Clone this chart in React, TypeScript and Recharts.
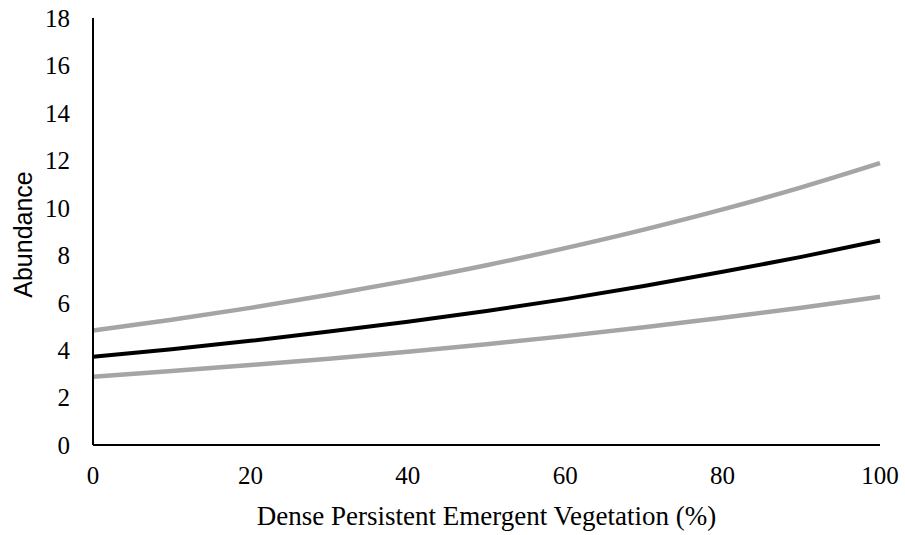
import React from 'react';
import { LineChart, Line, XAxis, YAxis, Label } from 'recharts';

const vegetation = [0, 10, 20, 30, 40, 50, 60, 70, 80, 90, 100];
const abundance = [3.72, 4.04, 4.39, 4.78, 5.2, 5.65, 6.15, 6.7, 7.3, 7.93, 8.62];
const upperCI = [4.83, 5.28, 5.78, 6.33, 6.93, 7.58, 8.3, 9.08, 9.93, 10.86, 11.88];
const lowerCI = [2.88, 3.12, 3.37, 3.64, 3.93, 4.25, 4.59, 4.96, 5.36, 5.79, 6.25];
const xTicks = [0, 20, 40, 60, 80, 100];
const yTicks = [0, 2, 4, 6, 8, 10, 12, 14, 16, 18];

const data = vegetation.map((v, i) => ({
  x: v,
  mean: abundance[i],
  upper: upperCI[i],
  lower: lowerCI[i],
}));

const serif = "'Liberation Serif', 'Times New Roman', serif";
const sans = "'Liberation Sans', Arial, sans-serif";

const XTick = (props: any) => {
  const { x, y, payload } = props;
  return (
    <text x={x} y={y} dy="0.71em" textAnchor="middle" fill="#000" style={{ fontFamily: serif, fontSize: 25 }}>
      {payload.value}
    </text>
  );
};

const YTick = (props: any) => {
  const { x, y, payload } = props;
  return (
    <text x={x} y={y} dy="0.355em" textAnchor="end" fill="#000" style={{ fontFamily: serif, fontSize: 25 }}>
      {payload.value}
    </text>
  );
};

const XTitle = (props: any) => {
  const vb = props.viewBox || { x: 0, y: 0, width: 0, height: 0 };
  return (
    <text
      x={vb.x + vb.width / 2}
      y={vb.y + vb.height - 10}
      textAnchor="middle"
      fill="#000"
      style={{ fontFamily: serif, fontSize: 27 }}
    >
      Dense Persistent Emergent Vegetation (%)
    </text>
  );
};

const YTitle = (props: any) => {
  const vb = props.viewBox || { x: 0, y: 0, width: 0, height: 0 };
  const cx = vb.x + 23;
  const cy = vb.y + vb.height / 2 + 3;
  return (
    <text
      x={cx}
      y={cy}
      transform={`rotate(-90, ${cx}, ${cy})`}
      textAnchor="middle"
      dominantBaseline="central"
      fill="#000"
      style={{ fontFamily: sans, fontSize: 25 }}
    >
      Abundance
    </text>
  );
};

export default function App() {
  return (
    <div style={{ position: 'absolute', left: 0, top: 0, background: '#fff' }}>
      <LineChart width={905} height={535} data={data} margin={{ top: 18, right: 25, bottom: 0, left: 0 }}>
        <XAxis
          dataKey="x"
          type="number"
          domain={[0, 100]}
          ticks={xTicks}
          tickLine={false}
          axisLine={{ stroke: '#000', strokeWidth: 2 }}
          tick={<XTick />}
          tickMargin={15}
          height={90}
        >
          <Label content={<XTitle />} position="insideBottom" />
        </XAxis>
        <YAxis
          type="number"
          domain={[0, 18]}
          ticks={yTicks}
          tickLine={false}
          axisLine={{ stroke: '#000', strokeWidth: 2 }}
          tick={<YTick />}
          tickMargin={17}
          width={93}
          interval={0}
        >
          <Label content={<YTitle />} position="insideLeft" />
        </YAxis>
        <Line dataKey="upper" stroke="#A5A5A5" strokeWidth={4.5} dot={false} type="monotone" isAnimationActive={false} />
        <Line dataKey="lower" stroke="#A5A5A5" strokeWidth={4.5} dot={false} type="monotone" isAnimationActive={false} />
        <Line dataKey="mean" stroke="#000" strokeWidth={4} dot={false} type="monotone" isAnimationActive={false} />
      </LineChart>
    </div>
  );
}
